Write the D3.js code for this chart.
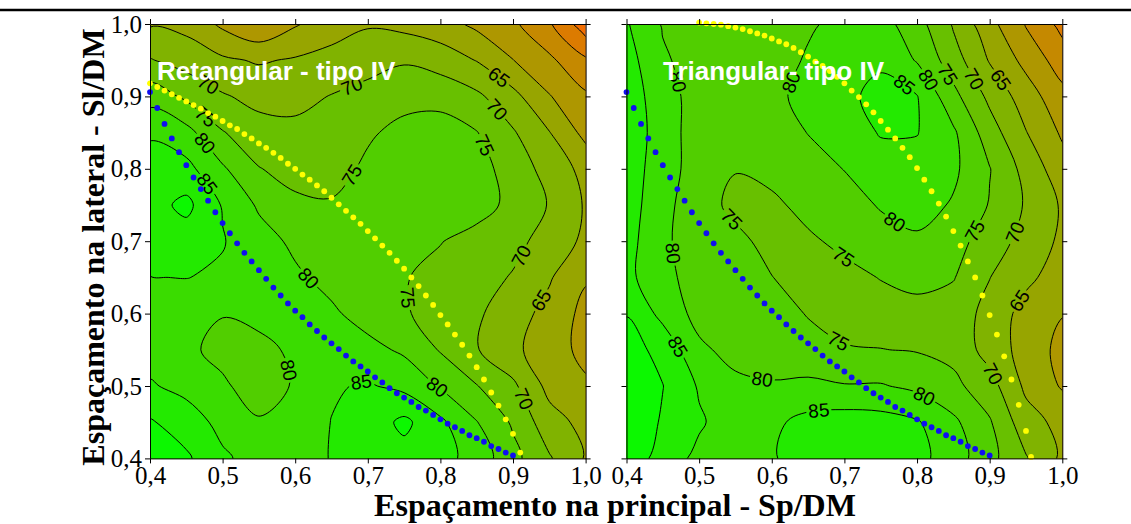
<!DOCTYPE html>
<html>
<head>
<meta charset="utf-8">
<script src="https://cdn.jsdelivr.net/npm/d3@7"></script>
<style>
  body { margin: 0; background: #ffffff; }
  svg { display: block; }
</style>
</head>
<body>
<svg id="chart" width="1131" height="524"></svg>
<script>
// ---- grid of the response surface (rows from Sl/DM = 1.0 down to 0.4) ----
const gridX = [0.40, 0.45, 0.50, 0.55, 0.60, 0.65, 0.70, 0.75, 0.80, 0.85, 0.90, 0.95, 1.00];
const gridY = [1.00, 0.95, 0.90, 0.85, 0.80, 0.75, 0.70, 0.65, 0.60, 0.55, 0.50, 0.45, 0.40];

// rectangular layout, type IV
const rectGrid = [
  [64.5, 63.5, 59.0, 55.5, 59.5, 62.5, 64.5, 63.5, 62.0, 58.9, 55.9, 50.6, 42.0],
  [70.3, 68.0, 65.8, 64.5, 65.5, 66.8, 68.3, 69.5, 67.7, 64.8, 60.1, 56.0, 50.8],
  [78.0, 74.0, 70.5, 68.5, 68.6, 70.2, 71.5, 73.3, 73.5, 71.0, 66.5, 60.3, 55.8],
  [84.4, 81.7, 75.3, 72.0, 71.2, 71.7, 74.3, 76.5, 77.0, 75.2, 70.5, 65.2, 58.5],
  [87.0, 86.5, 80.7, 75.2, 73.3, 73.0, 76.0, 77.5, 78.5, 76.8, 73.0, 68.0, 63.5],
  [88.0, 91.3, 84.6, 79.3, 76.0, 75.5, 77.5, 79.0, 79.0, 77.0, 73.7, 69.7, 64.5],
  [87.5, 87.5, 85.3, 82.0, 79.0, 78.5, 78.0, 77.0, 75.2, 73.2, 71.5, 68.0, 64.0],
  [84.9, 85.1, 84.3, 82.5, 80.8, 78.5, 76.5, 75.3, 73.5, 72.0, 69.6, 65.5, 60.5],
  [83.5, 82.0, 80.2, 81.5, 82.5, 80.8, 78.0, 75.5, 73.0, 70.8, 67.0, 63.5, 58.5],
  [83.0, 81.0, 78.5, 78.5, 81.0, 83.5, 81.5, 79.2, 74.6, 70.3, 66.0, 62.5, 58.5],
  [85.5, 83.5, 80.8, 77.5, 80.5, 84.5, 85.5, 83.6, 79.5, 75.2, 71.0, 63.5, 60.8],
  [90.5, 87.5, 83.5, 80.5, 82.0, 85.1, 87.0, 91.2, 86.0, 80.2, 74.3, 67.0, 63.5],
  [92.0, 90.8, 85.8, 83.0, 83.0, 85.2, 87.5, 88.0, 86.8, 83.0, 76.5, 70.5, 64.6]
];

// triangular layout, type IV
const triGrid = [
  [85.5, 79.5, 77.5, 76.5, 77.5, 79.3, 81.5, 82.0, 77.0, 69.4, 61.6, 54.6, 48.5],
  [87.0, 80.8, 77.5, 76.5, 77.5, 80.6, 83.0, 84.3, 79.6, 72.3, 64.6, 58.5, 52.5],
  [88.0, 82.0, 78.0, 76.5, 78.0, 82.5, 84.0, 86.3, 85.2, 76.5, 68.8, 62.5, 56.5],
  [89.0, 82.0, 78.0, 77.0, 78.0, 80.1, 82.0, 85.4, 85.2, 80.8, 72.3, 65.2, 59.3],
  [88.5, 81.5, 78.5, 75.2, 76.5, 78.5, 80.1, 82.5, 83.0, 81.0, 75.2, 68.3, 62.0],
  [87.5, 81.5, 77.0, 73.8, 74.0, 76.5, 78.5, 80.3, 82.0, 79.5, 74.7, 69.5, 64.4],
  [87.0, 80.7, 78.0, 76.2, 73.5, 74.2, 76.2, 78.5, 79.2, 77.0, 72.5, 68.3, 64.0],
  [86.5, 81.0, 78.5, 76.5, 75.1, 73.0, 73.5, 75.2, 76.3, 75.3, 70.1, 66.2, 62.5],
  [89.8, 83.5, 78.3, 77.0, 76.5, 74.8, 72.5, 72.8, 73.5, 72.5, 68.5, 63.0, 60.2],
  [92.0, 88.5, 81.0, 78.3, 77.0, 76.3, 75.5, 75.1, 74.7, 73.5, 68.0, 63.0, 58.5],
  [93.0, 90.1, 84.5, 81.2, 80.6, 81.2, 80.3, 80.4, 78.8, 76.3, 72.0, 64.0, 59.5],
  [93.5, 89.5, 85.6, 82.5, 84.0, 86.5, 87.5, 87.0, 85.5, 81.0, 75.5, 67.0, 63.5],
  [94.0, 87.5, 83.8, 82.5, 84.6, 87.0, 88.0, 87.5, 86.5, 82.5, 76.5, 70.4, 64.0]
];

// contour levels
const fillLevels = [40, 45, 50, 55, 60, 65, 70, 75, 80, 85, 90];
const lineLevels = [45, 50, 55, 60, 65, 70, 75, 80, 85, 90];

// contour labels: [Sp/DM, Sl/DM, level]
const rectLabels = [
  [0.480, 0.916, 70], [0.480, 0.875, 75], [0.475, 0.835, 80], [0.483, 0.782, 85],
  [0.675, 0.920, 70], [0.884, 0.932, 65], [0.882, 0.886, 70], [0.866, 0.835, 75],
  [0.680, 0.789, 75], [0.620, 0.650, 80], [0.761, 0.623, 75], [0.914, 0.678, 70],
  [0.937, 0.619, 65], [0.583, 0.520, 80], [0.692, 0.504, 85], [0.800, 0.506, 80],
  [0.910, 0.480, 70]
];
const triLabels = [
  [0.464, 0.918, 80], [0.625, 0.920, 80], [0.779, 0.911, 85], [0.816, 0.922, 80],
  [0.843, 0.930, 75], [0.876, 0.922, 70], [0.912, 0.920, 65], [0.550, 0.736, 75],
  [0.460, 0.684, 80], [0.700, 0.681, 75], [0.767, 0.725, 80], [0.880, 0.713, 75],
  [0.935, 0.711, 70], [0.462, 0.550, 85], [0.588, 0.520, 80], [0.698, 0.573, 75],
  [0.664, 0.477, 85], [0.810, 0.485, 80], [0.887, 0.508, 70], [0.939, 0.619, 65]
];

// blue dotted limit (same in both layouts)
const blueX = [0.40,0.41,0.42,0.43,0.44,0.45,0.46,0.47,0.48,0.49,0.50,0.51,0.52,0.53,0.54,0.55,0.56,0.57,0.58,0.59,
               0.60,0.61,0.62,0.63,0.64,0.65,0.66,0.67,0.68,0.69,0.70,0.71,0.72,0.73,0.74,0.75,0.76,0.77,0.78,0.79,
               0.80,0.81,0.82,0.83,0.84,0.85,0.86,0.87,0.88,0.89,0.90];
const blueY = [0.906,0.884,0.862,0.842,0.823,0.805,0.788,0.772,0.756,0.740,0.725,0.711,0.697,0.684,0.672,0.660,0.648,0.636,0.625,0.614,
               0.604,0.595,0.585,0.576,0.567,0.559,0.551,0.542,0.534,0.527,0.520,0.512,0.505,0.497,0.490,0.484,0.478,0.471,0.466,0.460,
               0.454,0.448,0.443,0.438,0.432,0.428,0.423,0.417,0.413,0.408,0.404];

// yellow dotted limit, rectangular layout
const rectYellowX = [0.40,0.41,0.42,0.43,0.44,0.45,0.46,0.47,0.48,0.49,0.50,0.51,0.52,0.53,0.54,0.55,0.56,0.57,0.58,0.59,
                     0.60,0.61,0.62,0.63,0.64,0.65,0.66,0.67,0.68,0.69,0.70,0.71,0.72,0.73,0.74,0.75,0.76,0.77,0.78,0.79,
                     0.80,0.81,0.82,0.83,0.84,0.85,0.86,0.87,0.88,0.89,0.90,0.91];
const rectYellowY = [0.918,0.913,0.908,0.903,0.898,0.893,0.888,0.883,0.877,0.872,0.866,0.860,0.855,0.848,0.842,0.835,0.829,0.822,0.815,0.807,
                     0.800,0.792,0.785,0.777,0.769,0.760,0.751,0.742,0.733,0.724,0.714,0.704,0.694,0.684,0.673,0.662,0.650,0.638,0.625,0.612,
                     0.598,0.585,0.571,0.557,0.542,0.526,0.509,0.491,0.473,0.454,0.434,0.408];

// yellow dotted limit, triangular layout
const triYellowX = [0.50,0.51,0.52,0.53,0.54,0.55,0.56,0.57,0.58,0.59,0.60,0.61,0.62,0.63,0.64,0.65,0.66,0.67,0.68,0.69,
                    0.70,0.71,0.72,0.73,0.74,0.75,0.76,0.77,0.78,0.79,0.80,0.81,0.82,0.83,0.84,0.85,0.86,0.87,0.88,0.89,
                    0.90,0.91,0.92,0.93,0.94,0.95,0.957];
const triYellowY = [1.002,1.001,1.000,0.999,0.997,0.995,0.993,0.990,0.987,0.984,0.980,0.976,0.972,0.967,0.961,0.955,0.948,0.942,0.935,0.927,
                    0.918,0.908,0.899,0.889,0.878,0.866,0.854,0.842,0.829,0.816,0.801,0.785,0.769,0.752,0.734,0.714,0.694,0.672,0.650,0.625,
                    0.598,0.571,0.541,0.509,0.474,0.438,0.402];

const tickValues = [0.4, 0.5, 0.6, 0.7, 0.8, 0.9, 1.0];
const tickLabels = ["0,4", "0,5", "0,6", "0,7", "0,8", "0,9", "1,0"];

const titleX = "Espaçamento na principal - Sp/DM";
const titleY = "Espaçamento na lateral - Sl/DM";

// ---- drawing ----
const svg = d3.select("#chart");
const serif = "'Liberation Serif', 'Times New Roman', serif";
const sans = "'Liberation Sans', Arial, sans-serif";

// band colour: green for high values, orange for low
const bandColor = d3.scaleLinear().domain([95, 40]).range(["#00ff00", "#ff6600"]);

// figure border line
svg.append("line").attr("x1", 0).attr("x2", 1131).attr("y1", 10).attr("y2", 10)
  .attr("stroke", "#000").attr("stroke-width", 2.5);

const panels = [
  { id: "rect", title: "Retangular - tipo IV", grid: rectGrid, labels: rectLabels,
    yellowX: rectYellowX, yellowY: rectYellowY, range: [150, 585.6], yLabels: true },
  { id: "tri", title: "Triangular- tipo IV", grid: triGrid, labels: triLabels,
    yellowX: triYellowX, yellowY: triYellowY, range: [626.5, 1062.3], yLabels: false }
];

const yScale = d3.scaleLinear().domain([0.4, 1.0]).range([458.4, 24]);
const nx = gridX.length, ny = gridY.length;
const stepX = gridX[1] - gridX[0], stepY = gridY[1] - gridY[0];
const smoothRing = d3.line().curve(d3.curveCatmullRomClosed.alpha(0.5));

panels.forEach(p => {
  const x = d3.scaleLinear().domain([0.4, 1.0]).range(p.range);
  const g = svg.append("g");
  const toPx = ([gx, gy]) => [x(gridX[0] + (gx - 0.5) * stepX), yScale(gridY[0] + (gy - 0.5) * stepY)];
  const multiPath = geom => geom.coordinates
    .map(poly => poly.map(ring => smoothRing(ring.slice(0, -1).map(toPx))).join(""))
    .join("");

  const defs = g.append("defs");
  defs.append("clipPath").attr("id", "clip-" + p.id)
    .append("rect").attr("x", x(0.4)).attr("y", yScale(1.0))
    .attr("width", x(1.0) - x(0.4)).attr("height", yScale(0.4) - yScale(1.0));

  const values = p.grid.flat();
  const bands = d3.contours().size([nx, ny]).thresholds(fillLevels)(values);

  const plot = g.append("g").attr("clip-path", `url(#clip-${p.id})`);
  // base band below the lowest level
  plot.append("rect").attr("x", x(0.4)).attr("y", yScale(1.0))
    .attr("width", x(1.0) - x(0.4)).attr("height", yScale(0.4) - yScale(1.0))
    .attr("fill", bandColor(fillLevels[0] - 2.5));
  plot.selectAll("path.band").data(bands).join("path")
    .attr("class", "band")
    .attr("d", d => multiPath(d))
    .attr("fill", d => bandColor(d.value + 2.5))
    .attr("fill-rule", "evenodd")
    .attr("stroke", d => bandColor(d.value + 2.5))
    .attr("stroke-width", 0.3);

  // contour lines, broken where labels sit
  const mask = defs.append("mask").attr("id", "mask-" + p.id)
    .attr("maskUnits", "userSpaceOnUse").attr("x", 0).attr("y", 0).attr("width", 1131).attr("height", 524);
  mask.append("rect").attr("x", 0).attr("y", 0).attr("width", 1131).attr("height", 524).attr("fill", "#fff");

  const lineGroup = plot.append("g").attr("mask", `url(#mask-${p.id})`);
  const lines = bands.filter(b => lineLevels.includes(b.value));
  const linePaths = {};
  lineGroup.selectAll("path.iso").data(lines).join("path")
    .attr("class", "iso")
    .attr("d", d => multiPath(d))
    .attr("fill", "none")
    .attr("stroke", "#000")
    .attr("stroke-width", 1)
    .each(function (d) { linePaths[d.value] = this; });

  // contour labels placed on their line, turned along it
  const labelGroup = g.append("g");
  p.labels.forEach(([lx, ly, lv]) => {
    const node = linePaths[lv];
    const ax = x(lx), ay = yScale(ly);
    let best = { d: Infinity, l: 0 };
    if (node) {
      const total = node.getTotalLength();
      for (let l = 0; l <= total; l += 1.5) {
        const pt = node.getPointAtLength(l);
        const dd = (pt.x - ax) ** 2 + (pt.y - ay) ** 2;
        if (dd < best.d) best = { d: dd, l: l, x: pt.x, y: pt.y };
      }
    }
    let px = ax, py = ay, ang = 0;
    if (node && best.d < 400) {
      const total = node.getTotalLength();
      const a = node.getPointAtLength(Math.max(0, best.l - 5));
      const b = node.getPointAtLength(Math.min(total, best.l + 5));
      ang = Math.atan2(b.y - a.y, b.x - a.x) * 180 / Math.PI;
      if (ang > 90) ang -= 180;
      if (ang <= -90) ang += 180;
      px = best.x; py = best.y;
    }
    const t = labelGroup.append("text")
      .attr("transform", `translate(${px},${py}) rotate(${ang})`)
      .attr("text-anchor", "middle")
      .attr("dy", "0.36em")
      .attr("font-family", sans)
      .attr("font-size", 19)
      .attr("fill", "#000")
      .text(lv);
    const w = t.node().getComputedTextLength() + 4;
    mask.append("rect")
      .attr("transform", `translate(${px},${py}) rotate(${ang})`)
      .attr("x", -w / 2).attr("y", -8).attr("width", w).attr("height", 16)
      .attr("fill", "#000");
  });

  // dotted limits
  const dots = g.append("g");
  dots.selectAll("circle.blue").data(blueX.map((v, i) => [v, blueY[i]])).join("circle")
    .attr("class", "blue").attr("cx", d => x(d[0])).attr("cy", d => yScale(d[1]))
    .attr("r", 2.9).attr("fill", "#1010f0");
  dots.selectAll("circle.yellow").data(p.yellowX.map((v, i) => [v, p.yellowY[i]])).join("circle")
    .attr("class", "yellow").attr("cx", d => x(d[0])).attr("cy", d => yScale(d[1]))
    .attr("r", 2.9).attr("fill", "#ffff00");

  // panel title
  g.append("text").attr("x", x(0.4) + (p.id === "rect" ? 7 : 36.5)).attr("y", 80)
    .attr("font-family", sans).attr("font-weight", "bold").attr("font-size", 26)
    .attr("fill", "#fff").text(p.title);

  // axes
  const fmt = (d, i) => tickLabels[i];
  const axB = g.append("g").attr("transform", `translate(0,${yScale(0.4)})`)
    .call(d3.axisBottom(x).tickValues(tickValues).tickFormat(fmt).tickSize(5).tickSizeOuter(0).tickPadding(3));
  const axT = g.append("g").attr("transform", `translate(0,${yScale(1.0)})`)
    .call(d3.axisTop(x).tickValues(tickValues).tickFormat("").tickSize(5).tickSizeOuter(0));
  const axL = g.append("g").attr("transform", `translate(${x(0.4)},0)`)
    .call(d3.axisLeft(yScale).tickValues(tickValues).tickFormat(p.yLabels ? fmt : "").tickSize(5).tickSizeOuter(0).tickPadding(3));
  const axR = g.append("g").attr("transform", `translate(${x(1.0)},0)`)
    .call(d3.axisRight(yScale).tickValues(tickValues).tickFormat("").tickSize(5).tickSizeOuter(0));
  [axB, axT, axL, axR].forEach(a => {
    a.selectAll("path.domain").attr("stroke", "#000").attr("stroke-width", 1);
    a.selectAll("line").attr("stroke", "#000").attr("stroke-width", 1);
    a.selectAll("text").attr("font-family", serif).attr("font-size", 25).attr("fill", "#000");
  });
});

// axis titles
svg.append("text").attr("x", 615).attr("y", 516).attr("text-anchor", "middle")
  .attr("font-family", serif).attr("font-weight", "bold").attr("font-size", 32)
  .text(titleX);
svg.append("text").attr("transform", "translate(104,247) rotate(-90)").attr("text-anchor", "middle")
  .attr("font-family", serif).attr("font-weight", "bold").attr("font-size", 32)
  .text(titleY);
</script>
</body>
</html>
